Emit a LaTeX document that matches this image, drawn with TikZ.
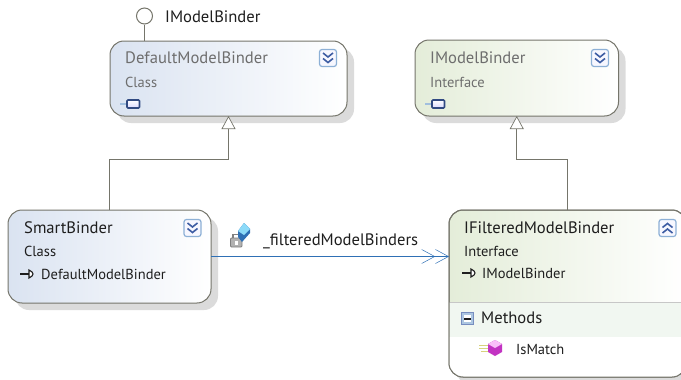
\documentclass[tikz,border=0pt]{standalone}
\usepackage{fontspec}
\setmainfont{PT Sans}
\usetikzlibrary{arrows.meta,shadows}
\definecolor{L}{HTML}{75756B}
\definecolor{B}{HTML}{2F70B5}
\definecolor{C}{HTML}{DAE3F1}
\definecolor{G}{HTML}{E4EDD9}
\definecolor{T}{HTML}{6E6E6E}
\definecolor{K}{HTML}{1E1E1E}
\definecolor{N}{HTML}{3D5CA3}
\definecolor{M}{HTML}{F1F7F1}
\tikzset{
  umlbox/.style={rectangle, draw=L, line width=1pt, rounded corners=14pt, minimum height=10pt, outer sep=0pt,
    drop shadow={shadow xshift=7pt, shadow yshift=-7pt, fill=black!14, opacity=1}},
  classbox/.style={umlbox, left color=C, right color=white},
  ifacebox/.style={umlbox, left color=G, right color=white},
  title/.style={anchor=base west, inner sep=0pt, font=\fontsize{16.6}{20}\selectfont, text=K},
  small/.style={anchor=base west, inner sep=0pt, font=\fontsize{14.5}{17}\selectfont, text=K},
  inherit/.style={line width=1pt, draw=L, -{Triangle[open, length=13pt, width=14pt, fill=white, line width=0.7pt]}},
  assoc/.style={line width=1pt, draw=B, -{Straight Barb[length=13pt, width=14pt, line width=0.5pt]Straight Barb[length=13pt, width=14pt, line width=0.5pt]}},
  btn/.pic={
    \path[fill=blue!3, draw=B!55, line width=1.2pt, rounded corners=2.5pt] (-8.5,-8.5) rectangle (8.5,8.5);
    \draw[N, line width=1.6pt] (-5,-5) -- (0,-1) -- (5,-5) (-5,0.5) -- (0,4.5) -- (5,0.5);
  },
  btnup/.pic={
    \path[fill=blue!3, draw=B!55, line width=1.2pt, rounded corners=2.5pt] (-8.5,-8.5) rectangle (8.5,8.5);
    \draw[N, line width=1.6pt] (-5,5) -- (0,1) -- (5,5) (-5,-0.5) -- (0,-4.5) -- (5,-0.5);
  },
  plug/.pic={
    \fill[B!45] (0,3) rectangle (7,5.5);
    \path[draw=N!80!black, line width=1.6pt, top color=white, bottom color=blue!15, rounded corners=1pt] (7,0.5) rectangle (19.5,8.5);
  },
  impl/.pic={
    \draw[K, line width=1.3pt] (0,0) -- (9,0);
    \path[draw=K, fill=white, line width=1.1pt] (9,-4) .. controls (12,-3) and (13,-1) .. (13,0) .. controls (13,1) and (12,3) .. (9,4) -- cycle;
  }
}
\begin{document}
\begin{tikzpicture}[x=1.00pt, y=-1.00pt]
\useasboundingbox (0,0) rectangle (681,380);
% boxes
\node[classbox, minimum width=237pt, minimum height=75pt] (dmb) at (228.5,78.5) {};
\node[ifacebox, minimum width=203.5pt, minimum height=76pt] (imb) at (516.75,78) {};
\node[classbox, minimum width=203pt, minimum height=93pt] (sb) at (109.5,256.5) {};
\node[ifacebox, minimum width=237pt, minimum height=167pt] (ifb) at (567.5,293.5) {};
\begin{scope}
\clip[rounded corners=14pt] (ifb.north west) rectangle (ifb.south east);
\fill[M] (449,303) rectangle (686,337);
\fill[white] (449,337) rectangle (686,377);
\draw[black!22, line width=1pt] (449,302.5) -- (686,302.5);
\end{scope}
\draw[L, line width=1pt, rounded corners=14pt] (ifb.north west) rectangle (ifb.south east);
% lollipop
\node[circle, draw=L, fill=white, line width=1pt, minimum size=16pt, inner sep=0pt] (lolly) at (144.5,16) {};
\draw[L, line width=1pt] (lolly) -- (lolly |- dmb.north);
% connectors
\draw[inherit] (sb.north) -- ++(0,-51) -| (dmb.south);
\draw[inherit] (ifb.north) -- ++(0,-51) -| (imb.south);
\draw[assoc] (sb.east) -- (sb.east -| ifb.west);
% texts
\node[title] (lollytxt) at (165,23) {IModelBinder};
\node[title, text=T] (dmbname) at (125,63.5) {DefaultModelBinder};
\node[small, text=T] (dmbkind) at (125,87) {Class};
\node[title, text=T] (imbname) at (430,63.5) {IModelBinder};
\node[small, text=T] (imbkind) at (430,87) {Interface};
\node[title] (sbname) at (24,233) {SmartBinder};
\node[small] (sbkind) at (24,256) {Class};
\node[small] (sbbase) at (41,279) {DefaultModelBinder};
\node[title] (ifbname) at (464,233) {IFilteredModelBinder};
\node[small] (ifbkind) at (464,256) {Interface};
\node[small] (ifbbase) at (482,278) {IModelBinder};
\node[title] (ifbgroup) at (481,323) {Methods};
\node[small] (ifbmethod) at (516,354) {IsMatch};
\node[title] (assocname) at (263,245) {\_filteredModelBinders};
% buttons and glyphs
\path (328,58) pic {btn};
\path (600,58) pic {btn};
\path (192.5,228) pic {btn};
\path (667.5,228) pic {btnup};
\path (120,99.5) pic {plug};
\path (425,99.5) pic {plug};
\path (20,274) pic {impl};
\path (462,273) pic {impl};
% lock and cube
\path[fill=black!30, draw=black!50, line width=0.8pt, rounded corners=1pt] (230.5,238) rectangle (242,247);
\draw[black!50, line width=1.3pt] (233,238) -- (233,234.5) -- (239.5,234.5) -- (239.5,238);
\fill[white] (234.5,240.5) rectangle (238,244.5);
\fill[B] (244,223) -- (250,229) -- (250,233) -- (242,242) -- (238,237) -- (238,231) -- cycle;
\fill[cyan!45!white] (244,223) -- (250,229) -- (244,235) -- (238,231) -- cycle;
% minus button
\path[fill=B!40, draw=N!70, line width=1pt] (461.5,312.5) rectangle (473,324);
\fill[white] (463.5,314.5) rectangle (471,322);
\fill[K] (464,317.5) rectangle (470.5,319.5);
% method cube
\draw[yellow!70!black!60, line width=1pt] (479,345) -- (488,345) (479,348) -- (488,348) (481,351) -- (488,351);
\fill[violet!60!magenta!80!white] (495,340) -- (502,344) -- (502,352) -- (495,356) -- (488,352) -- (488,344) -- cycle;
\fill[violet!20!magenta!25!white] (495,340) -- (502,344) -- (495,348) -- (488,344) -- cycle;
\end{tikzpicture}
\end{document}
